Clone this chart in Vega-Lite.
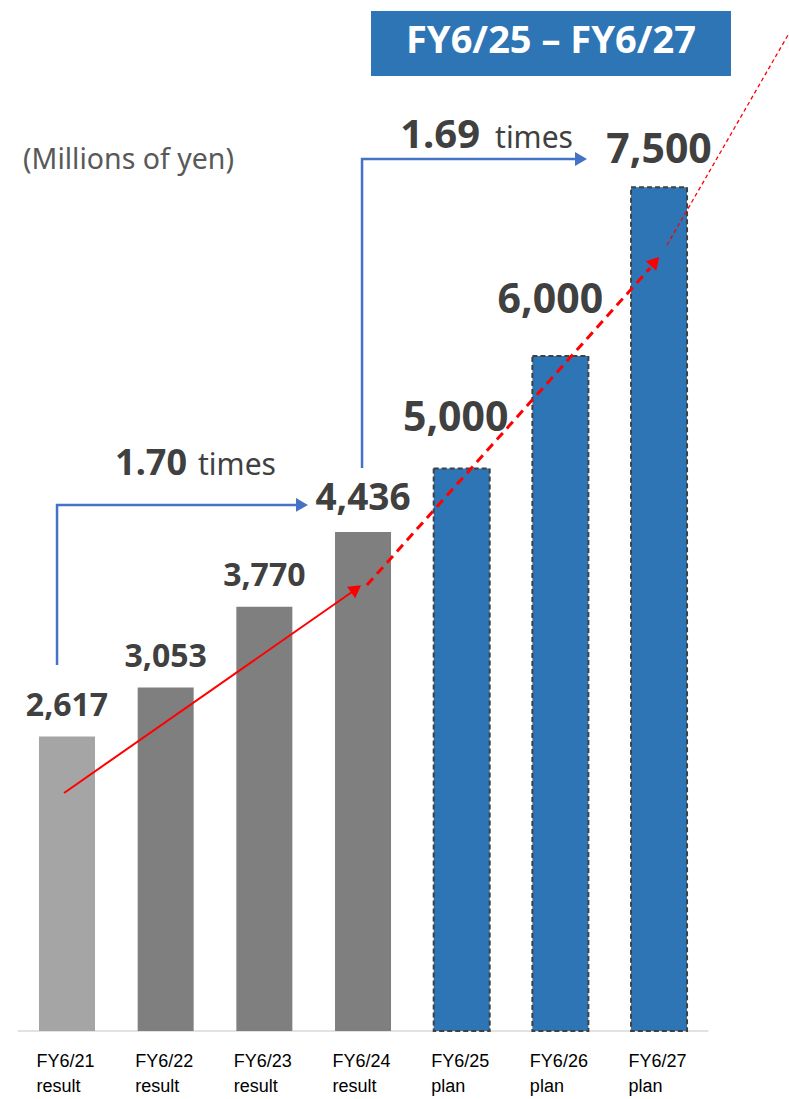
{
  "$schema": "https://vega.github.io/schema/vega-lite/v6.json",
  "width": 789,
  "height": 1031,
  "autosize": {"type": "none"},
  "padding": {"left": 0, "top": 0, "right": 0, "bottom": 68},
  "background": "white",
  "config": {"view": {"stroke": null}},
  "datasets": {
    "bars": [
      {"x": 0, "y": 2617, "g": "a"},
      {"x": 1, "y": 3053, "g": "b"},
      {"x": 2, "y": 3770, "g": "b"},
      {"x": 3, "y": 4436, "g": "b"},
      {"x": 4, "y": 5000, "g": "c"},
      {"x": 5, "y": 6000, "g": "c"},
      {"x": 6, "y": 7500, "g": "c"}
    ],
    "base": [{"x": -0.5, "x2": 6.5, "y": 0}],
    "connectors": [
      {"x": -0.101, "y": 3253, "k": 0, "s": "A"},
      {"x": -0.101, "y": 4676, "k": 1, "s": "A"},
      {"x": 2.321, "y": 4676, "k": 2, "s": "A"},
      {"x": 2.99, "y": 5004, "k": 0, "s": "B"},
      {"x": 2.99, "y": 7751, "k": 1, "s": "B"},
      {"x": 5.148, "y": 7751, "k": 2, "s": "B"}
    ],
    "blueHeads": [
      {"x": 2.381, "y": 4676},
      {"x": 5.209, "y": 7751}
    ],
    "redSolid": [
      {"x": -0.03, "y": 2116},
      {"x": 2.888, "y": 3902}
    ],
    "redDashed": [
      {"x": 3.04, "y": 3964},
      {"x": 5.909, "y": 6782}
    ],
    "redThin": [
      {"x": 6.081, "y": 6987},
      {"x": 7.307, "y": 8853}
    ],
    "redHead1": [{"x": 2.93, "y": 3930}],
    "redHead2": [{"x": 5.96, "y": 6840}],
    "titleBox": [{"x": 3.081, "x2": 6.729, "y": 9067, "y2": 8489}],
    "titleText": [{"x": 4.905, "y": 8791, "t": "FY6/25 – FY6/27"}],
    "unitText": [{"x": -0.446, "y": 7742, "t": "(Millions of yen)"}],
    "ratioNum": [
      {"x": 1.216, "y": 4942, "t": "1.70"}
    ],
    "ratioNum2": [
      {"x": 4.186, "y": 7849, "t": "1.69"}
    ],
    "ratioWord": [
      {"x": 1.328, "y": 4942, "t": "times"},
      {"x": 4.338, "y": 7849, "t": "times"}
    ]
  },
  "encoding": {
    "x": {
      "field": "x",
      "type": "quantitative",
      "scale": {"domain": [-0.679, 7.317], "nice": false, "zero": false, "padding": 0},
      "axis": {
        "values": [0, 1, 2, 3, 4, 5, 6],
        "labelExpr": "[['FY6/21','result'],['FY6/22','result'],['FY6/23','result'],['FY6/24','result'],['FY6/25','plan'],['FY6/26','plan'],['FY6/27','plan']][datum.value]",
        "domain": false,
        "ticks": false,
        "grid": false,
        "title": null,
        "labelAlign": "left",
        "labelOffset": -31,
        "labelBaseline": "top",
        "labelPadding": 21,
        "labelFont": "Liberation Sans",
        "labelFontSize": 18,
        "labelLineHeight": 25,
        "labelColor": "#000000",
        "labelOverlap": false,
        "labelFlush": false,
        "labelBound": false
      }
    },
    "y": {
      "field": "y",
      "type": "quantitative",
      "scale": {"domain": [0, 9164.4], "nice": false, "zero": false, "padding": 0},
      "axis": null
    }
  },
  "layer": [
    {
      "data": {"name": "titleBox"},
      "mark": {"type": "rect", "color": "#2E75B6"},
      "encoding": {"x2": {"field": "x2"}, "y2": {"field": "y2"}}
    },
    {
      "data": {"name": "titleText"},
      "mark": {"type": "text", "font": "Noto Sans", "fontWeight": "bold", "fontSize": 38, "color": "#FFFFFF", "align": "center", "baseline": "middle"},
      "encoding": {"text": {"field": "t"}}
    },
    {
      "data": {"name": "unitText"},
      "mark": {"type": "text", "font": "Noto Sans", "fontSize": 28.5, "color": "#595959", "align": "left", "baseline": "middle"},
      "encoding": {"text": {"field": "t"}}
    },
    {
      "data": {"name": "base"},
      "mark": {"type": "rule", "color": "#D9D9D9", "strokeWidth": 1.5},
      "encoding": {"x2": {"field": "x2"}}
    },
    {
      "data": {"name": "bars"},
      "transform": [{"filter": "datum.x <= 3"}],
      "mark": {"type": "bar", "size": 56},
      "encoding": {
        "color": {"field": "g", "type": "nominal", "scale": {"domain": ["a", "b"], "range": ["#A5A5A5", "#7F7F7F"]}, "legend": null}
      }
    },
    {
      "data": {"name": "bars"},
      "transform": [{"filter": "datum.x >= 4"}],
      "mark": {"type": "bar", "size": 56, "fill": "#2E75B6", "stroke": "#404040", "strokeWidth": 2, "strokeDash": [5, 3]}
    },
    {
      "data": {"name": "bars"},
      "transform": [{"filter": "datum.x <= 2"}],
      "mark": {"type": "text", "font": "Noto Sans", "fontWeight": "bold", "fontSize": 32, "color": "#404040", "align": "center", "baseline": "alphabetic", "dy": -21},
      "encoding": {"text": {"field": "y", "type": "quantitative", "format": ","}}
    },
    {
      "data": {"name": "bars"},
      "transform": [{"filter": "datum.x == 3"}],
      "mark": {"type": "text", "font": "Noto Sans", "fontWeight": "bold", "fontSize": 37, "color": "#404040", "align": "center", "baseline": "alphabetic", "dy": -22},
      "encoding": {"text": {"field": "y", "type": "quantitative", "format": ","}}
    },
    {
      "data": {"name": "bars"},
      "transform": [{"filter": "datum.x == 4"}],
      "mark": {"type": "text", "font": "Noto Sans", "fontWeight": "bold", "fontSize": 41, "color": "#404040", "align": "center", "baseline": "alphabetic", "dx": -6, "dy": -37},
      "encoding": {"text": {"field": "y", "type": "quantitative", "format": ","}}
    },
    {
      "data": {"name": "bars"},
      "transform": [{"filter": "datum.x == 5"}],
      "mark": {"type": "text", "font": "Noto Sans", "fontWeight": "bold", "fontSize": 41, "color": "#404040", "align": "center", "baseline": "alphabetic", "dx": -10, "dy": -43},
      "encoding": {"text": {"field": "y", "type": "quantitative", "format": ","}}
    },
    {
      "data": {"name": "bars"},
      "transform": [{"filter": "datum.x == 6"}],
      "mark": {"type": "text", "font": "Noto Sans", "fontWeight": "bold", "fontSize": 41, "color": "#404040", "align": "center", "baseline": "alphabetic", "dy": -24},
      "encoding": {"text": {"field": "y", "type": "quantitative", "format": ","}}
    },
    {
      "data": {"name": "connectors"},
      "mark": {"type": "line", "color": "#4472C4", "strokeWidth": 2.5},
      "encoding": {"order": {"field": "k", "type": "quantitative"}, "detail": {"field": "s", "type": "nominal"}}
    },
    {
      "data": {"name": "blueHeads"},
      "mark": {"type": "point", "shape": "triangle-right", "filled": true, "color": "#4472C4", "opacity": 1, "size": 190, "strokeWidth": 0}
    },
    {
      "data": {"name": "redSolid"},
      "mark": {"type": "line", "color": "#FF0000", "strokeWidth": 2},
      "encoding": {}
    },
    {
      "data": {"name": "redDashed"},
      "mark": {"type": "line", "color": "#FF0000", "strokeWidth": 3, "strokeDash": [9, 6]},
      "encoding": {}
    },
    {
      "data": {"name": "redThin"},
      "mark": {"type": "line", "color": "#FF0000", "strokeWidth": 1.3, "strokeDash": [4, 3]},
      "encoding": {}
    },
    {
      "data": {"name": "redHead1"},
      "mark": {"type": "point", "shape": "triangle-up", "angle": 54.7, "filled": true, "color": "#FF0000", "opacity": 1, "size": 200, "strokeWidth": 0}
    },
    {
      "data": {"name": "redHead2"},
      "mark": {"type": "point", "shape": "triangle-up", "angle": 41.8, "filled": true, "color": "#FF0000", "opacity": 1, "size": 200, "strokeWidth": 0}
    },
    {
      "data": {"name": "ratioNum"},
      "mark": {"type": "text", "font": "Noto Sans", "fontWeight": "bold", "fontSize": 36, "color": "#404040", "align": "right", "baseline": "alphabetic"},
      "encoding": {"text": {"field": "t"}}
    },
    {
      "data": {"name": "ratioNum2"},
      "mark": {"type": "text", "font": "Noto Sans", "fontWeight": "bold", "fontSize": 40, "color": "#404040", "align": "right", "baseline": "alphabetic"},
      "encoding": {"text": {"field": "t"}}
    },
    {
      "data": {"name": "ratioWord"},
      "mark": {"type": "text", "font": "Noto Sans", "fontSize": 30, "color": "#404040", "align": "left", "baseline": "alphabetic"},
      "encoding": {"text": {"field": "t"}}
    }
  ]
}
